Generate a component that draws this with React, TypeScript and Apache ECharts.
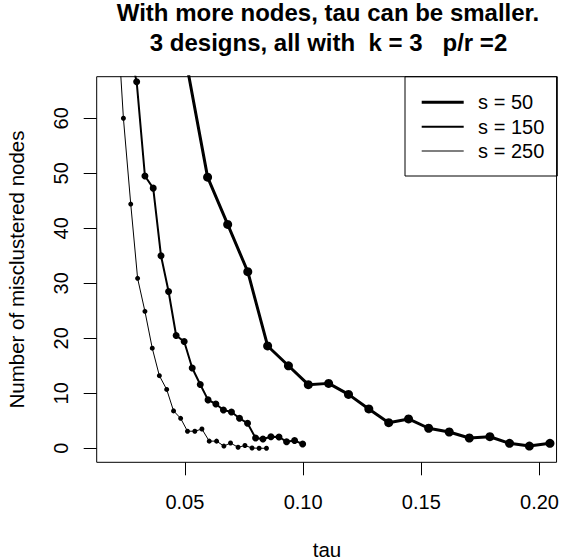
import React, { useEffect, useRef } from "react";
import * as echarts from "echarts";

// ---- data ----
const seriesNames = ["s = 50", "s = 150", "s = 250"];

const tau50 = [0.0511, 0.0596, 0.0681, 0.0766, 0.0850, 0.0938, 0.1022, 0.1108, 0.1192, 0.1278, 0.1362, 0.1446, 0.1531, 0.1618, 0.1703, 0.1790, 0.1873, 0.1957, 0.2044];
const miss50 = [69.0, 49.3, 40.7, 32.1, 18.6, 15.0, 11.56, 11.8, 9.8, 7.15, 4.65, 5.33, 3.64, 2.96, 1.87, 2.1, 0.9, 0.4, 0.9];

const tau150 = [0.0262, 0.0296, 0.0331, 0.0366, 0.0399, 0.0431, 0.0463, 0.0497, 0.0531, 0.0565, 0.0598, 0.0631, 0.0663, 0.0697, 0.0731, 0.0765, 0.0799, 0.0830, 0.0864, 0.0898, 0.0930, 0.0964, 0.0998];
const miss150 = [73, 66.65, 49.5, 47.3, 35.0, 28.5, 20.5, 19.4, 14.6, 11.6, 8.8, 8.05, 6.96, 6.6, 5.45, 4.55, 1.87, 1.7, 2.1, 2.05, 1.2, 1.4, 0.78];

const tau250 = [0.0210, 0.0240, 0.0271, 0.0300, 0.0331, 0.0362, 0.0392, 0.0423, 0.0452, 0.0482, 0.0511, 0.0542, 0.0572, 0.0603, 0.0634, 0.0665, 0.0693, 0.0725, 0.0754, 0.0784, 0.0814, 0.0845];
const miss250 = [81, 60.0, 44.4, 30.9, 24.9, 18.2, 13.2, 10.7, 6.8, 5.45, 3.1, 3.1, 3.5, 1.3, 1.3, 0.4, 0.96, 0.18, 0.5, 0.05, 0, 0];

const xTicks = [0.05, 0.1, 0.15, 0.2];
const yTicks = [0, 10, 20, 30, 40, 50, 60];

const titleLines = [
  "With more nodes, tau can be smaller.",
  "3 designs, all with  k = 3   p/r =2",
];
const xLabel = "tau";
const yLabel = "Number of misclustered nodes";

const FONT = "'Liberation Sans', Arial, Helvetica, sans-serif";

const zip = (xs: number[], ys: number[]) => xs.map((x, i) => [x, ys[i]]);

export default function App() {
  const ref = useRef<HTMLDivElement>(null);

  useEffect(() => {
    if (!ref.current) return;
    const chart = echarts.init(ref.current, undefined, { renderer: "svg" });

    const gridLeft = 96.7;
    const gridTop = 76.7;
    const gridW = 460.8;
    const gridH = 385.6;

    const styles = [
      { lw: 3, sym: 9 },
      { lw: 2, sym: 7 },
      { lw: 1, sym: 5 },
    ];
    const datas = [zip(tau50, miss50), zip(tau150, miss150), zip(tau250, miss250)];

    const option: any = {
      animation: false,
      backgroundColor: "#fff",
      textStyle: { fontFamily: FONT },
      grid: {
        left: gridLeft,
        top: gridTop,
        width: gridW,
        height: gridH,
        show: true,
        borderColor: "#000",
        borderWidth: 1,
        backgroundColor: "transparent",
      },
      xAxis: {
        type: "value",
        min: 0.0127,
        max: 0.2072,
        splitLine: { show: false },
        axisLine: { show: false, onZero: false },
        axisTick: {
          show: true,
          customValues: xTicks,
          length: 13,
          lineStyle: { color: "#000", width: 1 },
        },
        axisLabel: {
          customValues: xTicks,
          formatter: (v: number) => v.toFixed(2),
          margin: 29.5,
          fontSize: 20,
          color: "#000",
          fontFamily: FONT,
        },
      },
      yAxis: {
        type: "value",
        min: -2.55,
        max: 67.56,
        splitLine: { show: false },
        axisLine: { show: false, onZero: false },
        axisTick: {
          show: true,
          customValues: yTicks,
          length: 13,
          lineStyle: { color: "#000", width: 1 },
        },
        axisLabel: {
          customValues: yTicks,
          formatter: (v: number) => String(v),
          rotate: 90,
          margin: 25.5,
          fontSize: 20,
          color: "#000",
          fontFamily: FONT,
        },
      },
      legend: {
        orient: "vertical",
        left: 421.7,
        top: 92.3,
        padding: 0,
        itemWidth: 42,
        itemHeight: 14,
        itemGap: 4.4,
        selectedMode: false,
        textStyle: {
          fontSize: 20,
          lineHeight: 20,
          color: "#000",
          fontFamily: FONT,
          padding: [0, 0, 0, 9.4],
        },
        data: [
          { name: seriesNames[0], icon: "path://M0,0H42V3H0Z" },
          { name: seriesNames[1], icon: "path://M0,0H42V2H0Z" },
          { name: seriesNames[2], icon: "path://M0,0H42V1H0Z" },
        ],
      },
      graphic: [
        {
          type: "rect",
          shape: { x: 405, y: 76.7, width: 152.3, height: 99.3 },
          style: { fill: "none", stroke: "#000", lineWidth: 1 },
          silent: true,
        },
        {
          type: "text",
          x: 328,
          y: 12.8,
          style: {
            text: titleLines[0],
            font: `bold 24px ${FONT}`,
            fill: "#000",
            textAlign: "center",
            textVerticalAlign: "middle",
          },
        },
        {
          type: "text",
          x: 328.5,
          y: 42,
          style: {
            text: titleLines[1],
            font: `bold 24px ${FONT}`,
            fill: "#000",
            textAlign: "center",
            textVerticalAlign: "middle",
          },
        },
        {
          type: "text",
          x: 327,
          y: 549.5,
          style: {
            text: xLabel,
            font: `20.5px ${FONT}`,
            lineHeight: 18,
            fill: "#000",
            textAlign: "center",
            textVerticalAlign: "middle",
          },
        },
        {
          type: "text",
          x: 16,
          y: 269.5,
          rotation: Math.PI / 2,
          style: {
            text: yLabel,
            font: `20.5px ${FONT}`,
            fill: "#000",
            textAlign: "center",
            textVerticalAlign: "middle",
          },
        },
      ],
      series: datas.map((d, i) => ({
        name: seriesNames[i],
        type: "line",
        data: d,
        clip: true,
        symbol: "circle",
        symbolSize: styles[i].sym,
        showSymbol: true,
        color: "#000",
        lineStyle: { color: "#000", width: styles[i].lw },
        itemStyle: { color: "#000" },
        emphasis: { disabled: true },
      })),
    };

    chart.setOption(option);
    return () => chart.dispose();
  }, []);

  return (
    <div
      ref={ref}
      style={{ position: "fixed", left: 0, top: 0, width: 562, height: 560, background: "#fff" }}
    />
  );
}
